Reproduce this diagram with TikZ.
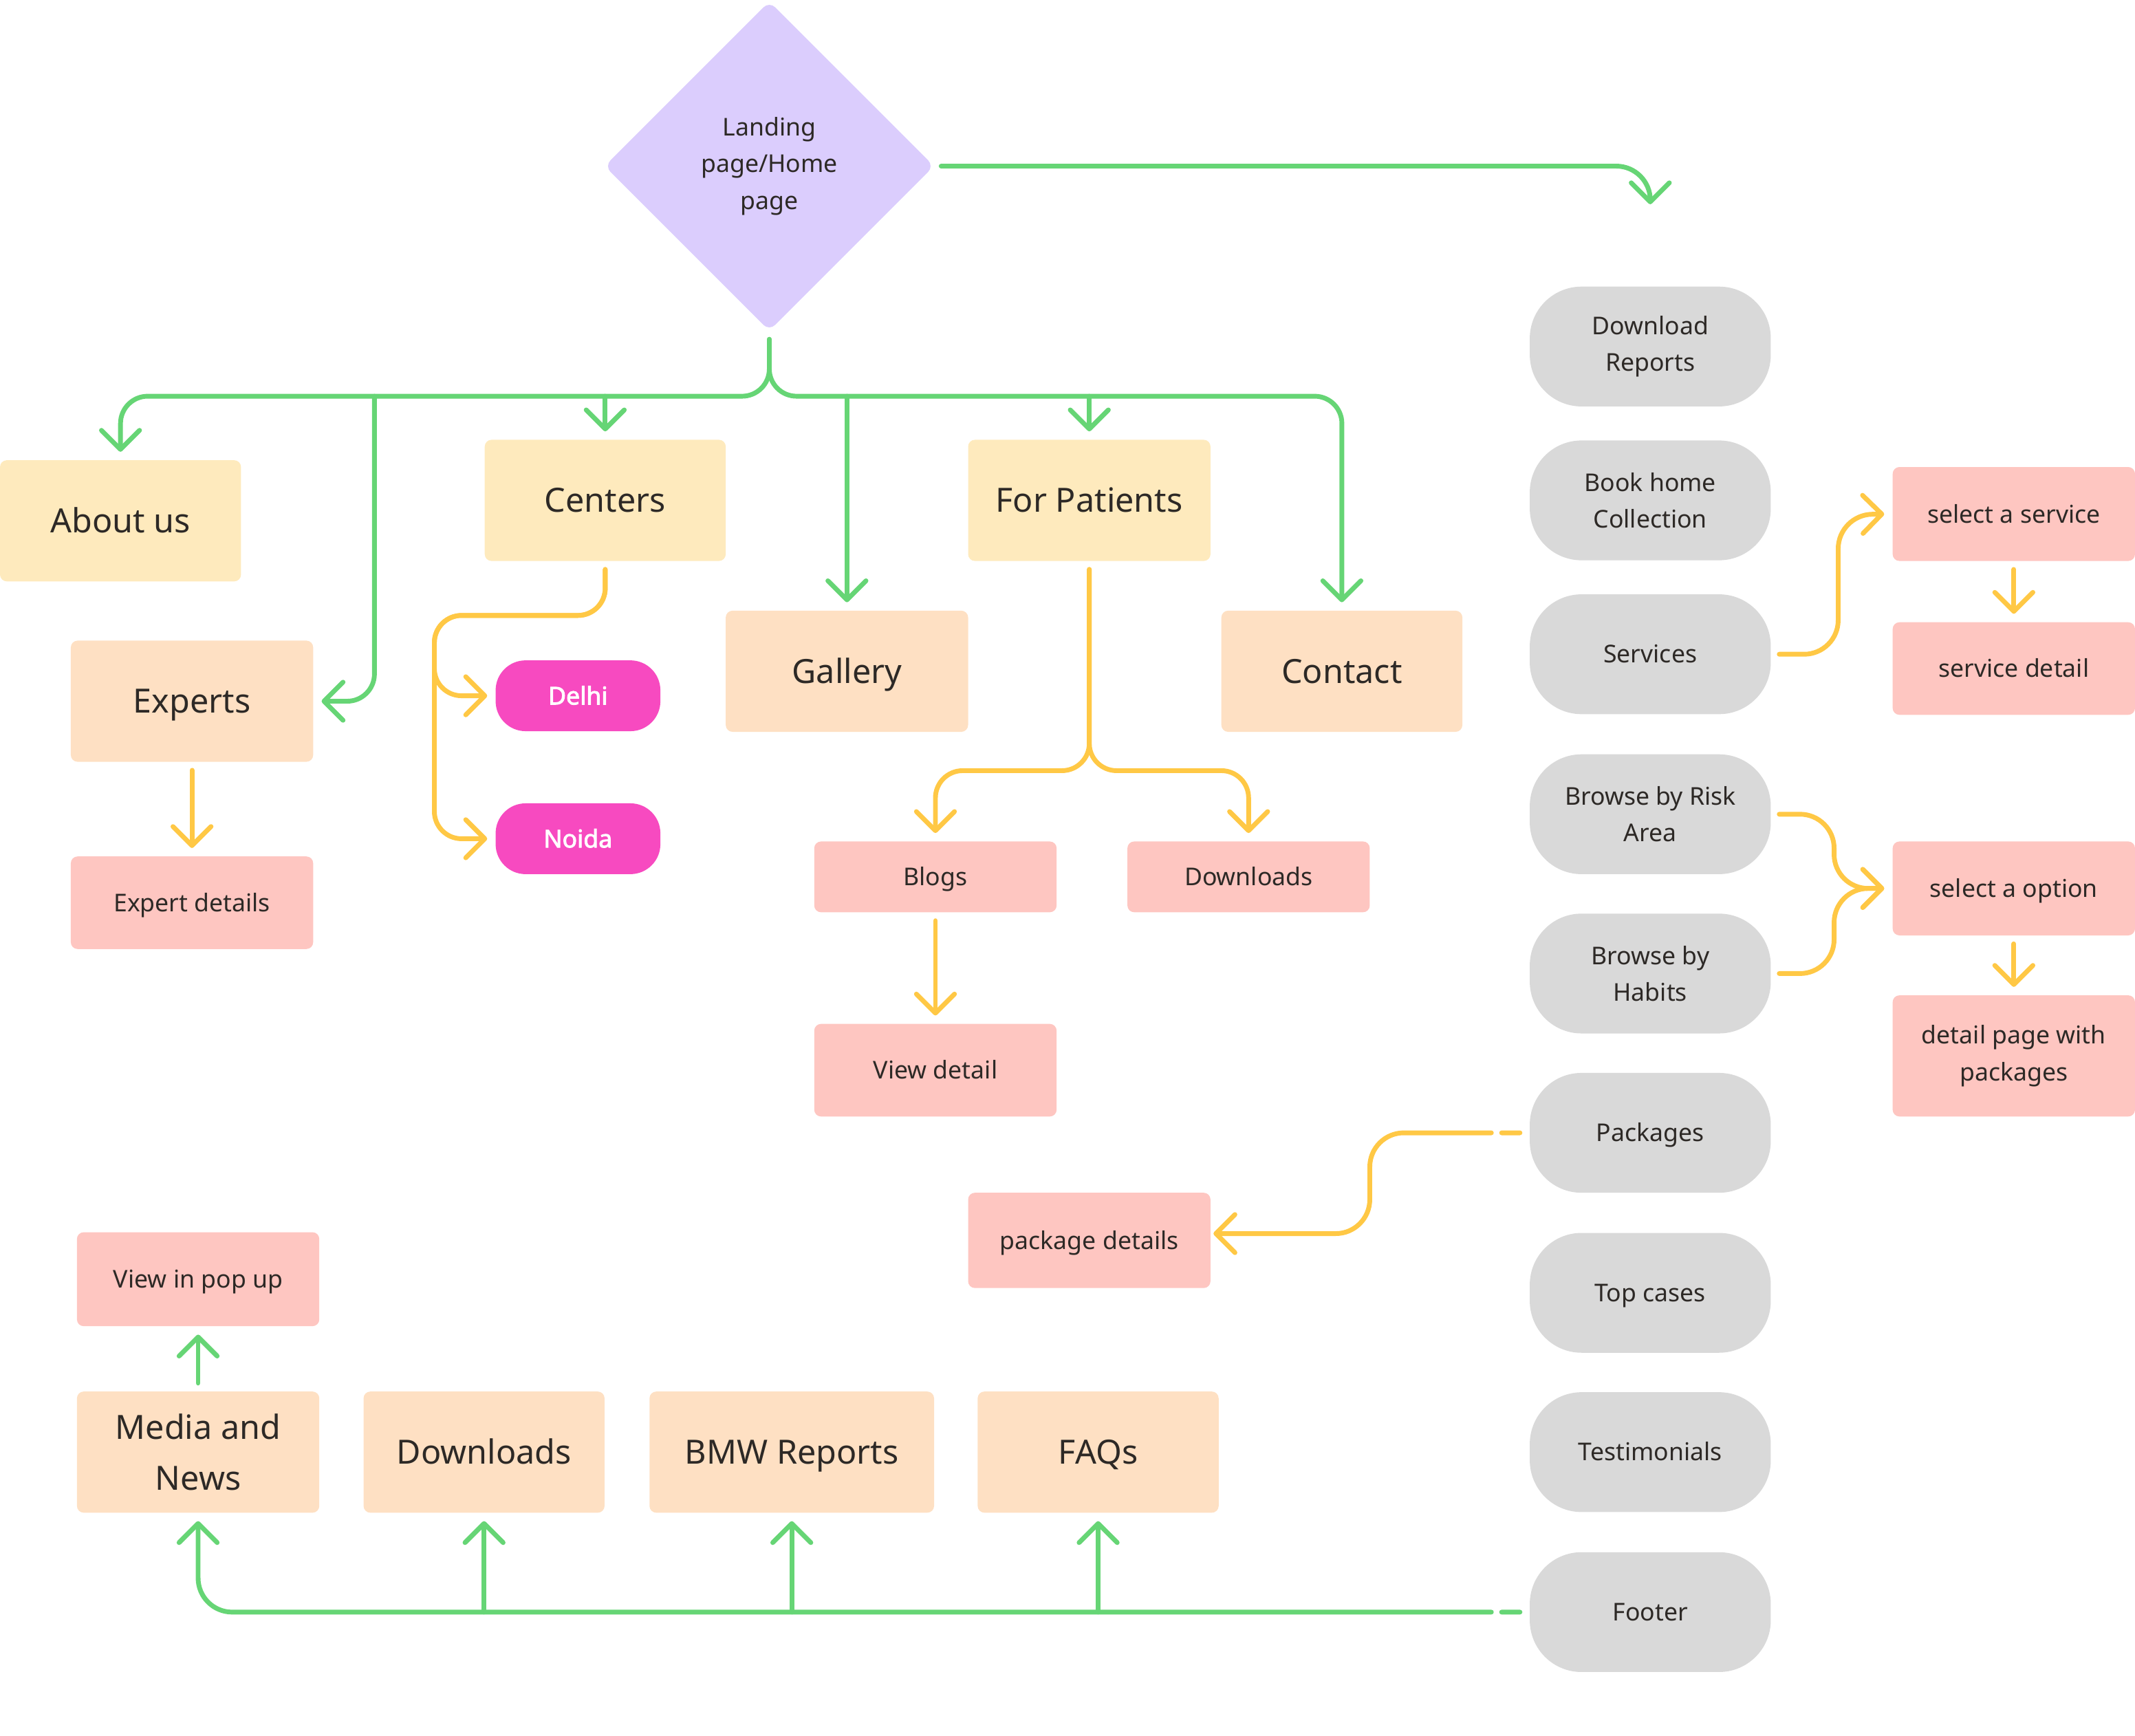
\documentclass[tikz,border=0pt]{standalone}
\usepackage{fontspec}
\setmainfont{Noto Sans}[AutoFakeBold=2.5]
\usetikzlibrary{shapes.geometric,arrows.meta,calc}
\definecolor{lav}{HTML}{DBCDFD}
\definecolor{yel}{HTML}{FEEABD}
\definecolor{peach}{HTML}{FEE0C3}
\definecolor{pinkc}{HTML}{FEC6C1}
\definecolor{magc}{HTML}{F74AC0}
\definecolor{grayc}{HTML}{D9D9D9}
\definecolor{grn}{HTML}{66D575}
\definecolor{ylw}{HTML}{FFC845}
\definecolor{txt}{HTML}{2D2926}
\begin{document}
\begin{tikzpicture}[x=1pt,y=-1pt,
  base/.style={inner sep=0pt, align=center, text=txt, font=\fontsize{18}{27}\selectfont},
  big/.style={base, font=\fontsize{24.5}{37}\selectfont},
  oneb/.style={text height=17.5pt, text depth=0pt},
  ones/.style={text height=12.85pt, text depth=0pt},
  ybox/.style={big, fill=yel, rounded corners=5pt, minimum width=177pt, minimum height=89pt},
  pbox/.style={big, fill=peach, rounded corners=5pt, minimum width=177pt, minimum height=89pt},
  pinkbox/.style={base, fill=pinkc, rounded corners=5pt, minimum width=178pt, minimum height=68pt},
  graybox/.style={base, fill=grayc, rounded corners=38pt, minimum width=177pt, minimum height=88pt},
  magbox/.style={base, ones, fill=magc, text=white, font=\fontsize{18}{27}\selectfont\bfseries, rounded corners=22pt, minimum width=121pt, minimum height=52pt},
  tipv/.tip={Straight Barb[length=14pt,width=28pt,round]},
  conn/.style={line width=3.5pt, line cap=round, line join=round, rounded corners=20pt, -tipv},
  gl/.style={conn, draw=grn},
  yl/.style={conn, draw=ylw},
  gapped/.style={dash pattern=on 13.5pt off 7.5pt on 4000pt}
]
\useasboundingbox (0,0) rectangle (1568,1275);

% ---- nodes ----
\node[diamond, aspect=1, fill=lav, minimum width=242pt, minimum height=242pt, rounded corners=6pt, base] (home) at (565,122) {Landing\\page/Home\\page};

\node[ybox, oneb] (about) at (88.5,382.5) {About us};
\node[ybox, oneb] (centers) at (444.5,367.5) {Centers};
\node[ybox, oneb, minimum width=178pt] (forpat) at (800,367.5) {For Patients};
\node[pbox, oneb, minimum width=178pt] (experts) at (141,515) {Experts};
\node[pbox, oneb, minimum width=178pt] (gallery) at (622,493) {Gallery};
\node[pbox, oneb] (contact) at (985.5,493) {Contact};
\node[pinkbox, ones] (expdet) at (141,663) {Expert details};
\node[magbox] (delhi) at (424.5,511) {Delhi};
\node[magbox] (noida) at (424.5,616) {Noida};
\node[pinkbox, ones, minimum height=52pt] (blogs) at (687,644) {Blogs};
\node[pinkbox, ones, minimum height=52pt] (dlone) at (917,644) {Downloads};
\node[pinkbox, ones] (viewdet) at (687,786) {View detail};

\node[graybox] (dlrep) at (1212,254.5) {Download\\Reports};
\node[graybox] (book) at (1212,367.5) {Book home\\Collection};
\node[graybox, ones] (services) at (1212,480.5) {Services};
\node[graybox] (risk) at (1212,598) {Browse by Risk\\Area};
\node[graybox] (habits) at (1212,715) {Browse by\\Habits};
\node[graybox, ones] (packages) at (1212,832) {Packages};
\node[graybox, ones] (topcases) at (1212,949.5) {Top cases};
\node[graybox, ones] (testim) at (1212,1066.5) {Testimonials};
\node[graybox, ones] (footer) at (1212,1184) {Footer};

\node[pinkbox, ones, minimum height=69pt] (selserv) at (1479,377.5) {select a service};
\node[pinkbox, ones] (servdet) at (1479,491) {service detail};
\node[pinkbox, ones, minimum height=69pt] (selopt) at (1479,652.5) {select a option};
\node[pinkbox, minimum height=89pt] (detpage) at (1479,775.5) {detail page with\\packages};
\node[pinkbox, ones, minimum height=70pt] (pkgdet) at (800,911) {package details};
\node[pinkbox, ones, minimum height=69pt] (popup) at (145.5,939.5) {View in pop up};

\node[pbox, minimum width=178pt] (media) at (145.5,1066.5) {Media and\\News};
\node[pbox, oneb] (dltwo) at (355.5,1066.5) {Downloads};
\node[pbox, oneb, minimum width=209pt] (bmw) at (581.5,1066.5) {BMW Reports};
\node[pbox, oneb] (faqs) at (806.5,1066.5) {FAQs};

% ---- coordinates ----
\coordinate (dlend) at (1212,150);
\coordinate (hsplit) at (565,291);
\coordinate (expbr) at (275,291);
\coordinate (cy) at (319,452);
\coordinate (fy) at (800,566);
\coordinate (sv) at (1350,378);
\coordinate (ov) at (1347,652.5);
\coordinate (pv) at (1006,906);

% ---- green connectors ----
\draw[gl, rounded corners=25pt, shorten <=5pt] (home.east) -- (dlend |- home.east) -- (dlend);
\draw[gl, shorten <=6pt, shorten >=6pt] (home.south) -- (hsplit) -| (about.north);
\draw[gl, shorten <=6pt, shorten >=6pt] (home.south) -- (hsplit) -| (contact.north);
\draw[gl, shorten >=6pt] (expbr) |- (experts.east);
\draw[gl, shorten >=6pt] (centers.north |- hsplit) -- (centers.north);
\draw[gl, shorten >=6pt] (gallery.north |- hsplit) -- (gallery.north);
\draw[gl, shorten >=6pt] (forpat.north |- hsplit) -- (forpat.north);

\draw[gl, gapped, rounded corners=25pt, shorten <=7pt, shorten >=6pt] (footer.west) -| (media.south);
\draw[gl, shorten >=6pt] (dltwo.south |- footer.west) -- (dltwo.south);
\draw[gl, shorten >=6pt] (bmw.south |- footer.west) -- (bmw.south);
\draw[gl, shorten >=6pt] (faqs.south |- footer.west) -- (faqs.south);
\draw[gl, shorten <=6pt, shorten >=6pt] (media.north) -- (popup.south);

% ---- yellow connectors ----
\draw[yl, shorten <=6pt, shorten >=6pt] (experts.south) -- (expdet.north);
\draw[yl, shorten <=6pt, shorten >=6pt] (centers.south) |- (cy) |- (delhi.west);
\draw[yl, shorten <=6pt, shorten >=6pt] (centers.south) |- (cy) |- (noida.west);
\draw[yl, shorten <=6pt, shorten >=6pt] (forpat.south) -- (fy) -| (blogs.north);
\draw[yl, shorten <=6pt, shorten >=6pt] (forpat.south) -- (fy) -| (dlone.north);
\draw[yl, shorten <=6pt, shorten >=6pt] (blogs.south) -- (viewdet.north);

\draw[yl, rounded corners=25pt, shorten <=6pt, shorten >=6pt] (services.east) -| (sv) -- (selserv.west);
\draw[yl, shorten <=6pt, shorten >=6pt] (selserv.south) -- (servdet.north);
\draw[yl, rounded corners=25pt, shorten <=6pt, shorten >=6pt] (risk.east) -| (ov) -- (selopt.west);
\draw[yl, rounded corners=25pt, shorten <=6pt, shorten >=6pt] (habits.east) -| (ov) -- (selopt.west);
\draw[yl, shorten <=6pt, shorten >=6pt] (selopt.south) -- (detpage.north);
\draw[yl, gapped, rounded corners=25pt, shorten <=7pt, shorten >=2pt] (packages.west) -| (pv) -- (pkgdet.east |- pv);
\end{tikzpicture}
\end{document}
